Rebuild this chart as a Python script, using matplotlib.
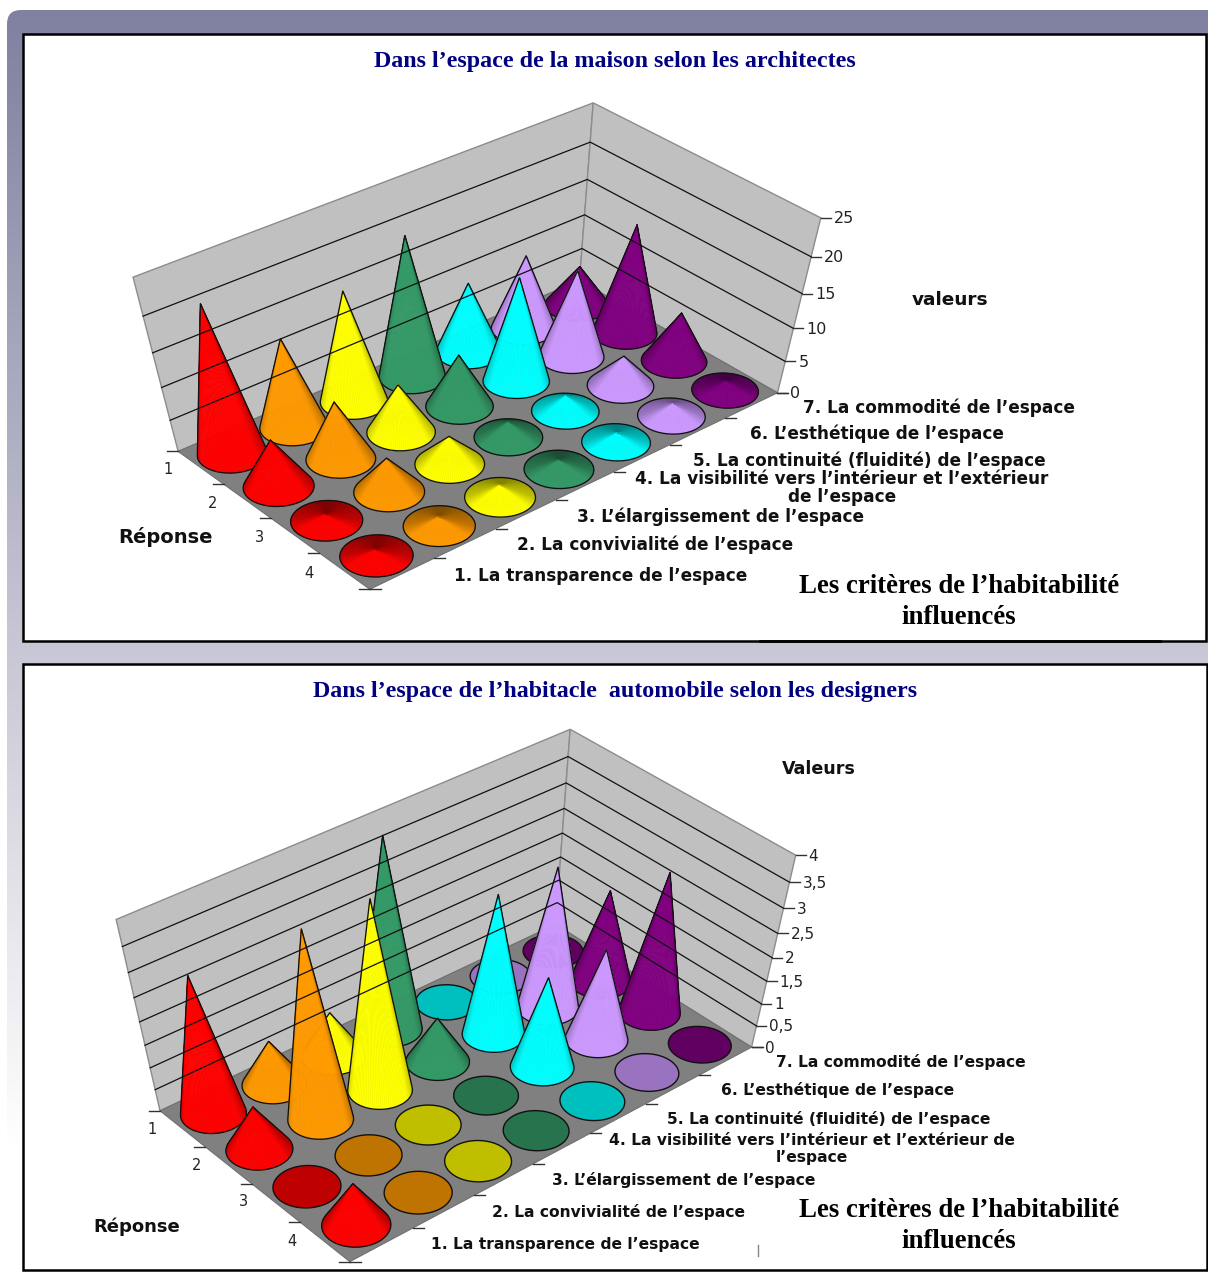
import numpy as np
import matplotlib
matplotlib.use("Agg")
import matplotlib.pyplot as plt
from matplotlib.collections import PolyCollection
from matplotlib.patches import FancyBboxPatch, Polygon

# ---------- data ----------
criteria_maison = ["1. La transparence de l’espace", "2. La convivialité de l’espace",
                   "3. L’élargissement de l’espace",
                   "4. La visibilité vers l’intérieur et l’extérieur\nde l’espace",
                   "5. La continuité (fluidité) de l’espace", "6. L’esthétique de l’espace",
                   "7. La commodité de l’espace"]
criteria_auto = ["1. La transparence de l’espace", "2. La convivialité de l’espace",
                 "3. L’élargissement de l’espace",
                 "4. La visibilité vers l’intérieur et l’extérieur de\nl’espace",
                 "5. La continuité (fluidité) de l’espace", "6. L’esthétique de l’espace",
                 "7. La commodité de l’espace"]
responses = ["1", "2", "3", "4"]
# one row per criterion, responses 1..4
values_maison = [[22, 7.5, 1, 1], [13.5, 9, 5.5, 1.5], [16.5, 7.5, 4.5, 2], [20.5, 8, 2.5, 1.5],
                 [10.5, 15.5, 2.5, 1.5], [11, 13, 4.7, 2], [6, 16, 7.5, 1.5]]
values_auto = [[3, 1, 0, 1], [1, 4, 0, 0], [1, 4, 0, 0], [4, 1, 0, 0],
               [0, 3, 2, 0], [0, 3, 2, 0], [0, 2, 3, 0]]
ticks_maison = [0, 5, 10, 15, 20, 25]
tick_labels_maison = ["0", "5", "10", "15", "20", "25"]
ticks_auto = [0, .5, 1, 1.5, 2, 2.5, 3, 3.5, 4]
tick_labels_auto = ["0", "0,5", "1", "1,5", "2", "2,5", "3", "3,5", "4"]
colors = ["#FF0000", "#FF9900", "#FFFF00", "#339966", "#00FFFF", "#CC99FF", "#800080"]

# ---------- layout ----------
NAVY = "#000080"
SERIF = "Liberation Serif"
LABEL_FONT = "DejaVu Sans"


def fit_camera(anchors):
    """Projective camera from box corners (u, v, w) -> pixel."""
    A, b = [], []
    for (u, v, w), (x, y) in anchors:
        A.append([u, v, w, 1, 0, 0, 0, 0, -x*u, -x*v, -x*w]); b.append(x)
        A.append([0, 0, 0, 0, u, v, w, 1, -y*u, -y*v, -y*w]); b.append(y)
    p = np.linalg.lstsq(np.array(A, float), np.array(b, float), rcond=None)[0]
    return np.append(p, 1).reshape(3, 4)


def project(M, u, v, w):
    u, v, w = np.broadcast_arrays(u, v, w)
    q = M @ np.vstack([u.ravel(), v.ravel(), w.ravel(), np.ones(u.size)])
    return (q[:2] / q[2]).T


def hull(pts):
    pts = sorted(map(tuple, pts))
    def half(seq):
        out = []
        for p in seq:
            while len(out) > 1 and ((out[-1][0]-out[-2][0])*(p[1]-out[-2][1])
                                    - (out[-1][1]-out[-2][1])*(p[0]-out[-2][0])) <= 0:
                out.pop()
            out.append(p)
        return out[:-1]
    return np.array(half(pts) + half(pts[::-1]))


def draw_cone(ax, M, u, v, w, color, radius, n=96):
    rgb = np.array(matplotlib.colors.to_rgb(color))
    t = np.linspace(0, 2*np.pi, n+1)
    ring = project(M, u + radius*np.cos(t), v + radius*np.sin(t), 0*t)
    if w <= 0:
        ax.add_patch(Polygon(ring, closed=True, fc=rgb*0.75, ec="#111111", lw=1.0))
        return
    apex = project(M, u, v, w)[0]
    centre = project(M, u, v, 0)[0]
    x, y = ring[:, 0], ring[:, 1]
    orient = np.sign(np.sum(x[:-1]*y[1:] - x[1:]*y[:-1]))
    polys, cols = [], []
    for i in range(n):
        a, b = ring[i], ring[i+1]
        cross = (a[0]-apex[0])*(b[1]-apex[1]) - (a[1]-apex[1])*(b[0]-apex[0])
        if cross*orient <= 0:
            continue
        d = (a + b)/2 - centre
        d = d[1]/np.hypot(*d)
        shade = np.interp(d, [-1, -0.2, 0, 0.35, 1], [0.5, 0.7, 0.76, 1, 1])
        polys.append([apex, a, b])
        cols.append(rgb*shade)
    ax.add_collection(PolyCollection(polys, facecolors=cols, edgecolors=cols, linewidths=0.4))
    ax.add_patch(Polygon(hull(np.vstack([ring[:-1], apex])), closed=True, fc="none", ec="#111111", lw=0.95))


def draw_chart(ax, anchors, vmax, values, ticks, tick_labels, crit_labels, crit_pos, resp_pos,
               radius, crit_size, spacing, tick_size):
    M = fit_camera(anchors)
    U, V = 7, 4
    P = lambda u, v, w: project(M, u, v, w)[0]
    ax.add_patch(Polygon([P(0, V, 0), P(U, V, 0), P(U, V, 1), P(0, V, 1)], fc="#C0C0C0", ec="#8c8c8c", lw=1))
    ax.add_patch(Polygon([P(U, V, 0), P(U, 0, 0), P(U, 0, 1), P(U, V, 1)], fc="#C0C0C0", ec="#8c8c8c", lw=1))
    ax.add_patch(Polygon([P(0, 0, 0), P(U, 0, 0), P(U, V, 0), P(0, V, 0)], fc="#808080", ec="#707070", lw=0.8))
    for t, lab in zip(ticks, tick_labels):
        w = t/vmax
        if 0 < t < vmax:
            ax.plot(*zip(P(0, V, w), P(U, V, w), P(U, 0, w)), color="#111111", lw=0.9)
        x, y = P(U, 0, w)
        ax.plot([x, x+10], [y, y], color="#333333", lw=1)
        ax.text(x+13, y+1, lab, ha="left", va="center", family=LABEL_FONT, fontsize=tick_size, color="#222222")
    for i in range(V+1):
        x, y = P(0, i, 0)
        ax.plot([x-11, x], [y, y], color="#333333", lw=1)
    for j in range(U+1):
        x, y = P(j, 0, 0)
        ax.plot([x, x+11], [y, y], color="#333333", lw=1)
    cones = []
    for j, row in enumerate(values):
        for i, val in enumerate(row):
            u, v = j+0.5, V-0.5-i
            cones.append((P(u, v, 0)[1], u, v, val/vmax, colors[j]))
    for _, u, v, w, c in sorted(cones, key=lambda s: s[0]):
        draw_cone(ax, M, u, v, w, c, radius)
    for lab, (x, y) in zip(crit_labels, crit_pos):
        ax.text(x, y, lab, ha="left" if "\n" not in lab else "center", va="center", family=LABEL_FONT,
                weight="bold", fontsize=crit_size, color="#111111", linespacing=spacing, multialignment="center")
    for lab, (x, y) in zip(responses, resp_pos):
        ax.text(x, y, lab, ha="center", va="center", family=LABEL_FONT, fontsize=10.5, color="#222222")


fig = plt.figure(figsize=(12.08, 12.83), dpi=100, facecolor="white")
ax = fig.add_axes([0, 0, 1, 1])

# page background
grad = np.linspace(0, 1, 256)[:, None]
rgb_top = np.array([128, 128, 160])/255
rgb_bot = np.array([255, 255, 255])/255
img = (rgb_top + (rgb_bot-rgb_top)*grad[:, :, None]).reshape(256, 1, 3)
bg = FancyBboxPatch((7, 10), 1400, 1400, boxstyle="round,pad=0,rounding_size=14", fc="none", ec="none")
ax.add_patch(bg)
im = ax.imshow(img, extent=[0, 1208, 1150, 10], aspect="auto", zorder=0)
im.set_clip_path(bg)
ax.set_xlim(0, 1208)
ax.set_ylim(1283, 0)
ax.axis("off")

# panels
for (x0, y0, x1, y1) in [(23, 34, 1206, 641), (23, 664, 1207, 1270)]:
    ax.add_patch(plt.Rectangle((x0, y0), x1-x0, y1-y0, fc="white", ec="black", lw=1.8, zorder=0.5))
ax.plot([760, 1160], [640.5, 640.5], color="black", lw=2)
ax.plot([758, 758], [1245, 1256], color="#888888", lw=1)

anchors_1 = [((0, 0, 0), (370, 590)), ((0, 4, 0), (178, 450)), ((7, 0, 0), (778, 392)), ((7, 4, 0), (579, 282)),
             ((0, 4, 1), (133, 278)), ((7, 4, 1), (594, 102)), ((7, 0, 1), (820, 218))]
anchors_2 = [((0, 0, 0), (350, 1262)), ((0, 4, 0), (160, 1110)), ((7, 0, 0), (752, 1047)), ((7, 4, 0), (555, 925)),
             ((0, 4, 1), (116, 920)), ((7, 4, 1), (571, 729)), ((7, 0, 1), (795, 855))]

draw_chart(ax, anchors_1, 25, values_maison, ticks_maison, tick_labels_maison, criteria_maison,
           [(454, 576), (517, 545), (577, 517), (842, 488), (693, 461), (750, 434), (803, 408)],
           [(168, 469), (213, 503), (260, 537), (309, 574)], 0.45, 12.2, 1.0, 11.5)
draw_chart(ax, anchors_2, 4, values_auto, ticks_auto, tick_labels_auto, criteria_auto,
           [(431, 1245), (492, 1212), (552, 1180), (812, 1149), (667, 1119), (721, 1090), (776, 1062)],
           [(152, 1129), (197, 1165), (244, 1202), (292, 1242)], 0.43, 11.2, 1.15, 11)

# titles and labels
ax.text(615, 62, "Dans l’espace de la maison selon les architectes", ha="center", va="center",
        family=SERIF, weight="bold", fontsize=17.3, color=NAVY)
ax.text(615, 692, "Dans l’espace de l’habitacle  automobile selon les designers", ha="center", va="center",
        family=SERIF, weight="bold", fontsize=17.3, color=NAVY)
for yc in (602, 1226):
    ax.text(959, yc, "Les critères de l’habitabilité\ninfluencés", ha="center", va="center", family=SERIF,
            weight="bold", fontsize=19.3, color="black", linespacing=1.3)
ax.text(950, 300, "valeurs", ha="center", va="center", family=LABEL_FONT, weight="bold", fontsize=13.3, color="#111111")
ax.text(819, 769, "Valeurs", ha="center", va="center", family=LABEL_FONT, weight="bold", fontsize=12.6, color="#111111")
ax.text(165, 537, "Réponse", ha="center", va="center", family=LABEL_FONT, weight="bold", fontsize=14, color="#111111")
ax.text(137, 1227, "Réponse", ha="center", va="center", family=LABEL_FONT, weight="bold", fontsize=13, color="#111111")

fig.savefig("out.png", dpi=100)
